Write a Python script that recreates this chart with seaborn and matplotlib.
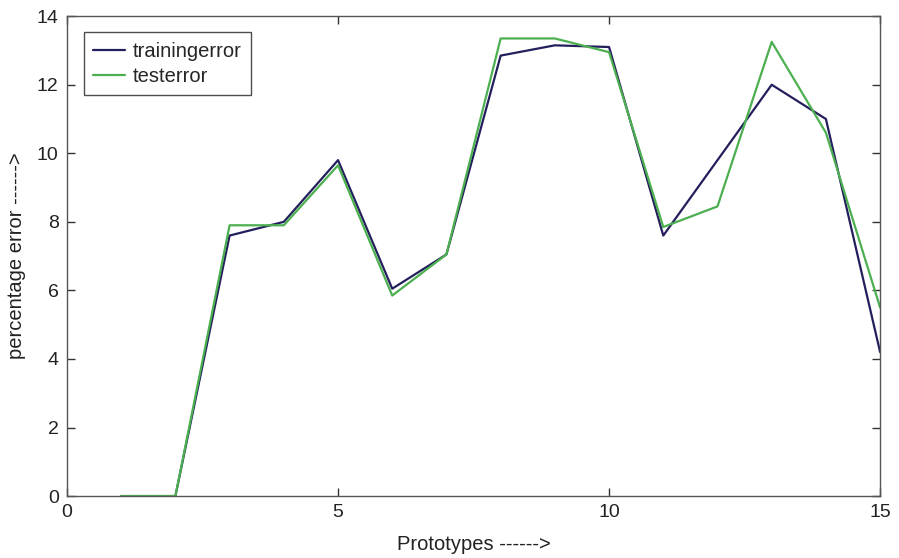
import matplotlib
matplotlib.use("Agg")
import matplotlib.pyplot as plt
import seaborn as sns
import pandas as pd

prototypes = [1, 2, 3, 4, 5, 6, 7, 8, 9, 10, 11, 12, 13, 14, 15]
training_error = [0, 0, 7.6, 8.0, 9.8, 6.05, 7.05, 12.85, 13.15, 13.1, 7.6, 9.8, 12.0, 11.0, 4.2]
test_error = [0, 0, 7.9, 7.9, 9.65, 5.85, 7.05, 13.35, 13.35, 12.95, 7.85, 8.45, 13.25, 10.6, 5.5]
series_names = ["trainingerror", "testerror"]
x_ticks = [0, 5, 10, 15]
y_ticks = [0, 2, 4, 6, 8, 10, 12, 14]

df = pd.DataFrame({
    "Prototypes": prototypes * 2,
    "error": training_error + test_error,
    "series": [series_names[0]] * len(prototypes) + [series_names[1]] * len(prototypes),
})

sns.set_style("white")
plt.rcParams["font.family"] = ["Liberation Sans", "DejaVu Sans"]

fig = plt.figure(figsize=(8.99, 5.58), dpi=100)
ax = fig.add_axes([0.0745, 0.111, 0.9045, 0.860])

palette = {series_names[0]: "#231f5c", series_names[1]: "#4caf50"}
sns.lineplot(data=df, x="Prototypes", y="error", hue="series", palette=palette,
             linewidth=1.6, ax=ax, legend=True)

ax.set_xlim(0, 15)
ax.set_ylim(0, 14)
ax.set_xticks(x_ticks)
ax.set_yticks(y_ticks)
ax.tick_params(direction="in", length=6, width=1, colors="#333333", labelsize=14,
               top=True, right=True, bottom=True, left=True, pad=6)
for lab in ax.get_xticklabels() + ax.get_yticklabels():
    lab.set_color("#222222")
for s in ax.spines.values():
    s.set_visible(True)
    s.set_color("#555555")
    s.set_linewidth(1.0)

ax.set_xlabel("Prototypes ------>", fontsize=14.5, color="#222222", labelpad=10)
ax.set_ylabel("percentage error ------>", fontsize=14.5, color="#222222", labelpad=8)

leg = ax.legend(loc="upper left", bbox_to_anchor=(0.008, 0.987), fontsize=14.5,
                frameon=True, fancybox=False, edgecolor="#222222",
                handlelength=1.6, handletextpad=0.4, borderpad=0.45, labelspacing=0.3)
leg.get_frame().set_linewidth(1.0)

fig.savefig("out.png", dpi=100)
